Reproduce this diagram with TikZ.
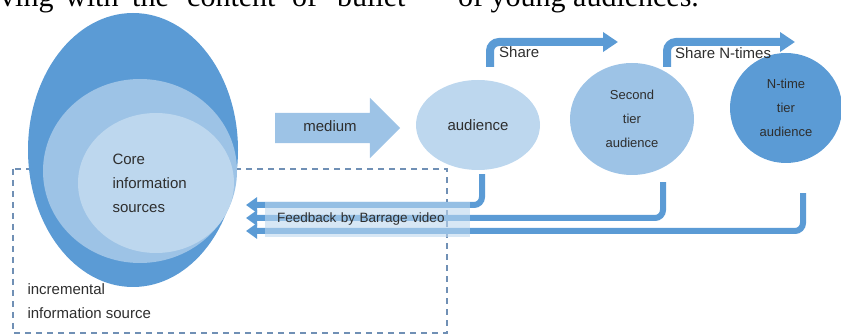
\documentclass[tikz,border=0pt]{standalone}
\usepackage{fontspec}
\setmainfont{Liberation Sans}
\newfontfamily\serifbody{Liberation Serif}
\usetikzlibrary{shapes.geometric,shapes.arrows,arrows.meta,calc}

\definecolor{blueDark}{HTML}{5B9BD5}
\definecolor{blueMid}{HTML}{9DC3E6}
\definecolor{blueLight}{HTML}{BDD7EE}
\definecolor{inkGray}{HTML}{2E2E2E}
\definecolor{dashGray}{HTML}{7090B5}

\begin{document}
\begin{tikzpicture}[x=1pt,y=-1pt,
  blob/.style={ellipse, inner sep=0pt, draw=none},
  lbl/.style={text=inkGray, font=\fontsize{15}{24}\selectfont},
  tierlbl/.style={text=inkGray, font=\fontsize{13}{24}\selectfont, align=center},
  sharearrow/.style={draw=blueDark, line width=8pt, rounded corners=9pt,
    -{Triangle[length=15pt,width=19pt]}},
  fbarrow/.style={draw=blueDark, line width=6pt, rounded corners=8pt,
    -{Triangle[length=11pt,width=15pt]}},
  dashbox/.style={draw=dashGray, line width=1.1pt, dash pattern=on 6pt off 5pt},
  bodytext/.style={anchor=base west, inner sep=0pt, text=black,
    font=\serifbody\fontsize{30}{31}\selectfont},
]
\useasboundingbox (0,0) rectangle (841,336);

% running text line above the figure
\begin{scope}
  \clip (0,0) rectangle (841,336);
  \foreach \x/\w in {0/ving, 65/with, 132/the, 187/content, 292/of, 337/bullet,
                     458/of young audiences.}
    \node[bodytext] (word\x) at (\x,6.5) {\w};
\end{scope}

% incremental source region
\draw[dashbox] (13,169) rectangle (447,333);

% nested information sources
\node[blob, fill=blueDark, minimum width=210pt, minimum height=274pt] (outer) at (133,150) {};
\node[blob, fill=blueMid, minimum width=194pt, minimum height=184pt] (middle) at (140,171) {};
\node[blob, fill=blueLight, minimum width=156pt, minimum height=140pt] (core) at (156,183) {};
\node[lbl, align=left, anchor=west] (coretext) at (109,183) {Core\\information\\sources};
\node[lbl, align=left, anchor=west] (incr) at (24,301) {incremental\\information source};

% medium
\node[single arrow, fill=blueMid, single arrow head extend=15pt, minimum height=125pt,
      text height=10pt, text depth=2pt, inner ysep=9pt, lbl] (medium) at (330,128) {medium};

% audiences
\node[blob, fill=blueLight, minimum width=124pt, minimum height=90pt, lbl] (aud) at (478,125) {audience};
\node[blob, fill=blueMid, minimum width=124pt, minimum height=112pt, tierlbl] (tier2) at (632,119) {Second\\tier\\audience};
\node[blob, fill=blueDark, minimum width=112pt, minimum height=110pt, tierlbl] (tierN) at (786,108) {N-time\\tier\\audience};

% sharing
\coordinate (share1end) at (618,42);
\coordinate (share2end) at (795,42);
\draw[sharearrow] ([xshift=12pt,yshift=13pt]aud.north) |- (share1end);
\draw[sharearrow] ([xshift=35pt,yshift=-4pt]tier2.north) |- (share2end);
\node[lbl, anchor=west, inner sep=0pt] (sharelbl) at (499,52) {Share};
\node[lbl, anchor=west, inner sep=0pt] (shareNlbl) at (675,53) {Share N-times};

% feedback
\coordinate (fb1) at (246,205);
\coordinate (fb2) at (246,218);
\coordinate (fb3) at (246,231);
\draw[fbarrow] ([xshift=4pt,yshift=-4pt]aud.south) |- (fb1);
\draw[fbarrow] ([xshift=31pt,yshift=-7pt]tier2.south) |- (fb2);
\draw[fbarrow] ([xshift=17pt,yshift=-30pt]tierN.south) |- (fb3);
\node[anchor=west, fill=blueLight, fill opacity=0.6, text opacity=1, minimum height=35pt,
      text width=181pt, inner xsep=12pt, align=left, text=inkGray,
      font=\fontsize{13.5}{16}\selectfont] (fbbox) at (265,219.5) {Feedback by Barrage video};
\end{tikzpicture}
\end{document}
